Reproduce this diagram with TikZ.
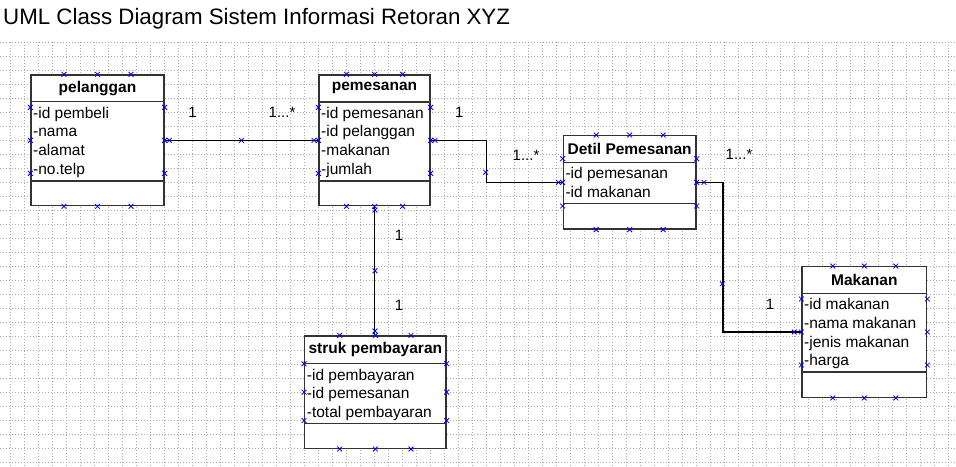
\documentclass[tikz,border=0pt]{standalone}
\usepackage{fontspec}
\setmainfont{Liberation Sans}
\usetikzlibrary{calc}
\newcommand\xmk[1]{\draw[xmark] (#1) ++(-2.4,-2.4) -- ++(4.8,4.8) (#1) ++(-2.4,2.4) -- ++(4.8,-4.8);}
\newcommand\boxmarks[1]{%
  \foreach \t in {0.25,0.5,0.75}{%
    \xmk{$(#1.north west)!\t!(#1.north east)$}
    \xmk{$(#1.south west)!\t!(#1.south east)$}
    \xmk{$(#1.north west)!\t!(#1.south west)$}
    \xmk{$(#1.north east)!\t!(#1.south east)$}
  }}
\begin{document}
\begin{tikzpicture}[x=1pt,y=-1pt,
  classbox/.style={draw=black!80, line width=1.3pt, fill=white, rectangle, inner sep=0pt},
  sepline/.style={draw=black!80, line width=1.3pt},
  ctitle/.style={font=\bfseries\fontsize{15.5}{18}\selectfont, inner sep=0pt},
  attr/.style={anchor=base west, font=\fontsize{15.5}{18}\selectfont, inner sep=0pt},
  conn/.style={draw=black, line width=1.1pt},
  mult/.style={font=\fontsize{15}{18}\selectfont, inner sep=0pt},
  xmark/.style={draw=blue, line width=0.8pt},
  gridline/.style={draw=black!32, line width=0.7pt, dash pattern=on 1.1pt off 1.9pt}]
\useasboundingbox (0,0) rectangle (956,466);
\fill[white] (0,0) rectangle (956,466);
% grid
\foreach \i in {0,...,67} \draw[gridline] ({10.2+14*\i},42) -- ({10.2+14*\i},466);
\foreach \j in {0,...,30} \draw[gridline] (0,{42.3+14*\j}) -- (956,{42.3+14*\j});
% title
\node[anchor=base west, inner sep=0pt, font=\fontsize{22.3}{26}\selectfont] (title) at (3,24) {UML Class Diagram Sistem Informasi Retoran XYZ};

% boxes
\node[classbox, minimum width=133pt, minimum height=130.7pt] (pel) at (97.5,140.35) {};
\node[classbox, minimum width=111pt, minimum height=130.7pt] (pem) at (374.5,140.35) {};
\node[classbox, minimum width=132.7pt, minimum height=93.3pt] (det) at (629.65,182.35) {};
\node[classbox, minimum width=124.7pt, minimum height=130.6pt] (mak) at (864.35,332) {};
\node[classbox, minimum width=141.3pt, minimum height=112.3pt] (stk) at (375.35,392.15) {};

% connectors
\draw[conn] (pel.east) -- (pem.west);
\draw[conn] (pem.east) -- ++(55.7,0) |- (det.west);
\draw[conn] (det.east) -- ++(26.3,0) |- (mak.west);
\draw[conn] (pem.south) -- (pem.south |- stk.north);

% separators
\draw[sepline] ($(pel.north west)+(0,27.3)$) -- ($(pel.north east)+(0,27.3)$);
\draw[sepline] ($(pel.north west)+(0,106.7)$) -- ($(pel.north east)+(0,106.7)$);
\draw[sepline] ($(pem.north west)+(0,27.5)$) -- ($(pem.north east)+(0,27.5)$);
\draw[sepline] ($(pem.north west)+(0,106.7)$) -- ($(pem.north east)+(0,106.7)$);
\draw[sepline] ($(det.north west)+(0,27.6)$) -- ($(det.north east)+(0,27.6)$);
\draw[sepline] ($(det.north west)+(0,68.6)$) -- ($(det.north east)+(0,68.6)$);
\draw[sepline] ($(mak.north west)+(0,27.6)$) -- ($(mak.north east)+(0,27.6)$);
\draw[sepline] ($(mak.north west)+(0,106)$) -- ($(mak.north east)+(0,106)$);
\draw[sepline] ($(stk.north west)+(0,28)$) -- ($(stk.north east)+(0,28)$);
\draw[sepline] ($(stk.north west)+(0,88.3)$) -- ($(stk.north east)+(0,88.3)$);

% titles
\node[ctitle] (pelT) at ($(pel.north)+(0,13.7)$) {pelanggan};
\node[ctitle] (pemT) at ($(pem.north)+(0,13.7)$) {pemesanan};
\node[ctitle] (detT) at ($(det.north)+(0,13.8)$) {Detil Pemesanan};
\node[ctitle] (makT) at ($(mak.north)+(0,13.8)$) {Makanan};
\node[ctitle] (stkT) at ($(stk.north)+(0,14)$) {struk pembayaran};

% attributes
\node[attr] (pel1) at (33,118) {-id pembeli};
\node[attr] (pel2) at (33,136.7) {-nama};
\node[attr] (pel3) at (33,155.4) {-alamat};
\node[attr] (pel4) at (33,174.1) {-no.telp};
\node[attr] (pem1) at (321,118) {-id pemesanan};
\node[attr] (pem2) at (321,136.7) {-id pelanggan};
\node[attr] (pem3) at (321,155.4) {-makanan};
\node[attr] (pem4) at (321,174.1) {-jumlah};
\node[attr] (det1) at (565.3,178.8) {-id pemesanan};
\node[attr] (det2) at (565.3,197.5) {-id makanan};
\node[attr] (mak1) at (804,309.8) {-id makanan};
\node[attr] (mak2) at (804,328.5) {-nama makanan};
\node[attr] (mak3) at (804,347.2) {-jenis makanan};
\node[attr] (mak4) at (804,365.9) {-harga};
\node[attr] (stk1) at (306.7,380) {-id pembayaran};
\node[attr] (stk2) at (306.7,398.7) {-id pemesanan};
\node[attr] (stk3) at (306.7,417.4) {-total pembayaran};

% multiplicities
\node[mult, anchor=base] (m1) at (192.5,117.7) {1};
\node[mult, anchor=base west] (m2) at (268.5,117.7) {1...*};
\node[mult, anchor=base] (m3) at (459.3,117.3) {1};
\node[mult, anchor=base west] (m4) at (512.5,160.5) {1...*};
\node[mult, anchor=base west] (m5) at (725.5,159.3) {1...*};
\node[mult, anchor=base] (m6) at (399,240.7) {1};
\node[mult, anchor=base] (m7) at (399,310) {1};
\node[mult, anchor=base] (m8) at (770,309.3) {1};

% connection markers
\boxmarks{pel}
\boxmarks{pem}
\boxmarks{det}
\boxmarks{mak}
\boxmarks{stk}
\xmk{169.3,140.35} \xmk{241.5,140.35} \xmk{314,140.35}
\xmk{435,140.35} \xmk{485.7,172.3} \xmk{558.5,182.35}
\xmk{704,182.35} \xmk{722.3,283.8} \xmk{794.3,332}
\xmk{375,210} \xmk{375,270.8} \xmk{375,331}
\end{tikzpicture}
\end{document}
